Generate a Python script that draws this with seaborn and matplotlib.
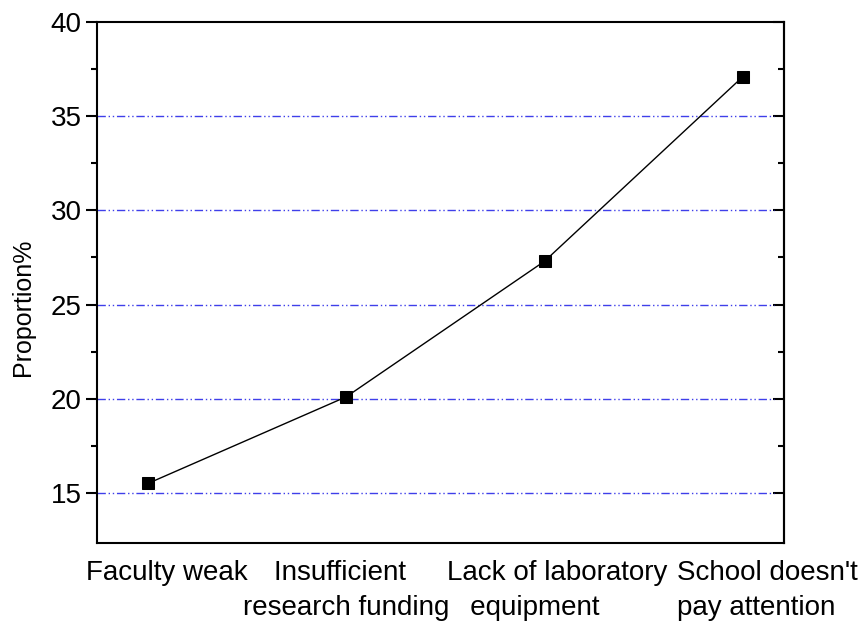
import matplotlib.pyplot as plt
import matplotlib.ticker as mticker
import matplotlib.transforms as mtransforms
import pandas as pd
import seaborn as sns

# data (labels keep the leading spaces of the original layout)
reasons = ["Faculty weak", "    Insufficient\nresearch funding",
           "Lack of laboratory\n   equipment", "School doesn't\npay attention"]
proportion = [15.5, 20.1, 27.3, 37.1]
y_ticks = [15, 20, 25, 30, 35, 40]
y_minor = [17.5, 22.5, 27.5, 32.5, 37.5]
grid_levels = [15, 20, 25, 30, 35]

sns.set_style("white")
plt.rcParams['font.family'] = ['Liberation Sans', 'DejaVu Sans']
plt.rcParams['text.color'] = 'black'
plt.rcParams['axes.labelcolor'] = 'black'
plt.rcParams['xtick.color'] = 'black'
plt.rcParams['ytick.color'] = 'black'

df = pd.DataFrame({'pos': range(len(reasons)), 'proportion': proportion})

fig = plt.figure(figsize=(8.62, 6.27), dpi=100)
ax = fig.add_axes([0.1125, 0.134, 0.797, 0.831])

# dash-dot-dot grid lines like Origin
for lvl in grid_levels:
    ax.axhline(lvl, xmax=0.985, color='#2a2ae8', lw=1.0, ls=(0, (6, 2, 1, 2, 1, 2)), alpha=0.9, zorder=1)

sns.lineplot(data=df, x='pos', y='proportion', ax=ax, color='black', lw=1,
             marker='s', markersize=8, markeredgecolor='black', zorder=3)

ax.set_xlim(-0.257, 3.207)
ax.set_ylim(12.34, 40)
ax.set_xticks(range(len(reasons)))
ax.set_xticklabels(reasons, fontsize=20, linespacing=1.45, multialignment='left')
ax.set_yticks(y_ticks)
ax.yaxis.set_minor_locator(mticker.FixedLocator(y_minor))
ax.tick_params(axis='y', which='major', direction='out', length=8, width=1.5,
               labelsize=20, left=True, pad=3)
ax.tick_params(axis='y', which='minor', direction='out', length=4, width=1.5, left=True)
ax.tick_params(axis='x', length=0, pad=12)

# the category labels sit a little right of their points in the original
shifts = [19, 0, 13, 24]
for lab, dx in zip(ax.get_xticklabels(), shifts):
    lab.set_transform(lab.get_transform() + mtransforms.ScaledTranslation(dx / 100, 0, fig.dpi_scale_trans))

for s in ax.spines.values():
    s.set_linewidth(1.5)
    s.set_color('black')

# inward ticks on the right side
sec = ax.secondary_yaxis('right')
sec.set_yticks(y_ticks)
sec.yaxis.set_minor_locator(mticker.FixedLocator(y_minor))
sec.tick_params(which='major', direction='in', length=8, width=1.5, labelright=False)
sec.tick_params(which='minor', direction='in', length=4, width=1.5)
sec.spines['right'].set_linewidth(1.5)

ax.set_xlabel('')
ax.set_ylabel('Proportion%', fontsize=18)
ax.yaxis.set_label_coords(-0.090, 0.453)

fig.savefig('out.png', dpi=100)
